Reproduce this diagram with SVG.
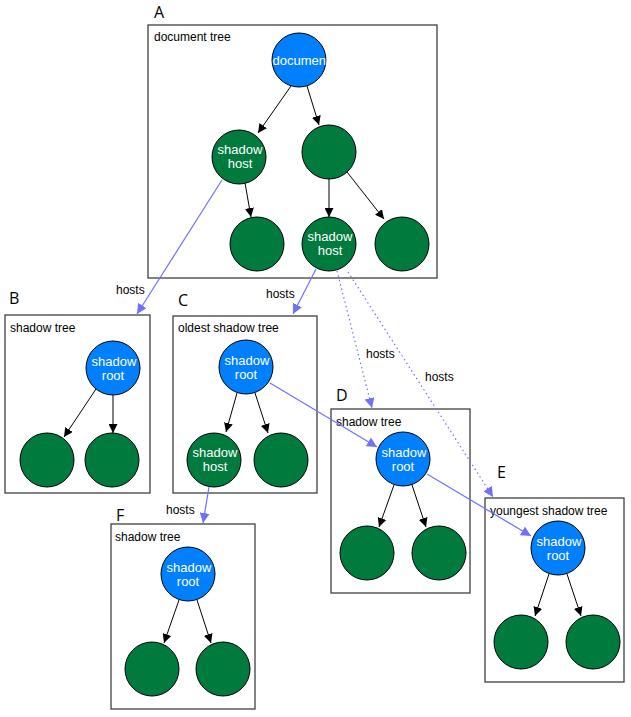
<svg xmlns="http://www.w3.org/2000/svg" width="631" height="717" viewBox="0 0 631 717">
  <defs>
    <marker id="arrow" viewBox="0 0 10 10" refX="10" refY="5" markerWidth="9" markerHeight="9" markerUnits="userSpaceOnUse" orient="auto">
      <path d="M0,0 L10,5 L0,10 z" fill="#000"/>
    </marker>
    <marker id="arrowBlue" viewBox="0 0 10 10" refX="10" refY="5" markerWidth="10" markerHeight="10" markerUnits="userSpaceOnUse" orient="auto">
      <path d="M0,0 L10,5 L0,10 z" fill="#7070ff"/>
    </marker>
    <style>
      .box { fill: #fff; stroke: #404040; stroke-width: 1.3; }
      .title { font-family: "Liberation Sans", Arial, sans-serif; font-size: 12px; fill: #000; }
      .letter { font-family: "Open Sans", "Liberation Sans", sans-serif; font-size: 16px; fill: #000; }
      .root { fill: #0080ff; stroke: #000; stroke-width: 1; }
      .node { fill: #007a3d; stroke: #000; stroke-width: 1; }
      .lbl { font-family: "Liberation Sans", Arial, sans-serif; font-size: 13px; fill: #fff; text-anchor: middle; }
      .edge { stroke: #000; stroke-width: 1; fill: none; marker-end: url(#arrow); }
      .host { stroke: #7070ff; stroke-width: 1.2; fill: none; marker-end: url(#arrowBlue); }
      .dot { stroke-dasharray: 1.5 3; }
      .hl { font-family: "Liberation Sans", Arial, sans-serif; font-size: 12px; fill: #000; }
    </style>
  </defs>

  <!-- A: document tree -->
  <g id="treeA">
    <text class="letter" x="154" y="18">A</text>
    <rect class="box" x="148" y="25" width="289" height="253"/>
    <text class="title" x="154" y="41">document tree</text>
  </g>
  <g id="A-document"><circle class="root" cx="299" cy="60" r="27"/><text class="lbl" x="301" y="64.5">document</text></g>
  <g id="A-host1"><circle class="node" cx="239" cy="157" r="27"/><text class="lbl" x="240" y="154">shadow</text><text class="lbl" x="240" y="168">host</text></g>
  <g id="A-node1"><circle class="node" cx="329" cy="152" r="27"/></g>
  <g id="A-node2"><circle class="node" cx="257" cy="244" r="27"/></g>
  <g id="A-host2"><circle class="node" cx="329" cy="244" r="27"/><text class="lbl" x="330" y="241">shadow</text><text class="lbl" x="330" y="255">host</text></g>
  <g id="A-node3"><circle class="node" cx="402" cy="244" r="27"/></g>

  <!-- B: shadow tree -->
  <g id="treeB">
    <text class="letter" x="9" y="304">B</text>
    <rect class="box" x="5" y="315" width="145" height="178"/>
    <text class="title" x="10" y="332">shadow tree</text>
  </g>
  <g id="B-root"><circle class="root" cx="113" cy="368" r="27"/><text class="lbl" x="114" y="366">shadow</text><text class="lbl" x="113" y="380">root</text></g>
  <g id="B-node1"><circle class="node" cx="47" cy="460" r="27"/></g>
  <g id="B-node2"><circle class="node" cx="112" cy="460" r="27"/></g>

  <!-- C: oldest shadow tree -->
  <g id="treeC">
    <text class="letter" x="178" y="306">C</text>
    <rect class="box" x="173" y="316" width="144" height="177"/>
    <text class="title" x="178" y="332">oldest shadow tree</text>
  </g>
  <g id="C-root"><circle class="root" cx="246" cy="367" r="27"/><text class="lbl" x="247" y="365">shadow</text><text class="lbl" x="246" y="379">root</text></g>
  <g id="C-host"><circle class="node" cx="214" cy="460" r="27"/><text class="lbl" x="215" y="457">shadow</text><text class="lbl" x="215" y="471">host</text></g>
  <g id="C-node1"><circle class="node" cx="281" cy="460" r="27"/></g>

  <!-- D: shadow tree -->
  <g id="treeD">
    <text class="letter" x="336" y="401">D</text>
    <rect class="box" x="331" y="409" width="139" height="184"/>
    <text class="title" x="336" y="426">shadow tree</text>
  </g>
  <g id="D-root"><circle class="root" cx="403" cy="459" r="27"/><text class="lbl" x="404" y="457">shadow</text><text class="lbl" x="403" y="471">root</text></g>
  <g id="D-node1"><circle class="node" cx="367" cy="553" r="27"/></g>
  <g id="D-node2"><circle class="node" cx="439" cy="553" r="27"/></g>

  <!-- E: youngest shadow tree -->
  <g id="treeE">
    <text class="letter" x="497" y="478">E</text>
    <rect class="box" x="485" y="498" width="139" height="184"/>
    <text class="title" x="490" y="515">youngest shadow tree</text>
  </g>
  <g id="E-root"><circle class="root" cx="558" cy="548" r="27"/><text class="lbl" x="559" y="546">shadow</text><text class="lbl" x="558" y="560">root</text></g>
  <g id="E-node1"><circle class="node" cx="521" cy="642" r="27"/></g>
  <g id="E-node2"><circle class="node" cx="593" cy="642" r="27"/></g>

  <!-- F: shadow tree -->
  <g id="treeF">
    <text class="letter" x="116" y="521">F</text>
    <rect class="box" x="111" y="524" width="144" height="185"/>
    <text class="title" x="115" y="541">shadow tree</text>
  </g>
  <g id="F-root"><circle class="root" cx="188" cy="574" r="27"/><text class="lbl" x="189" y="572">shadow</text><text class="lbl" x="188" y="586">root</text></g>
  <g id="F-node1"><circle class="node" cx="152" cy="669" r="27"/></g>
  <g id="F-node2"><circle class="node" cx="223" cy="669" r="27"/></g>

  <!-- connectors -->
  <g id="connectors">
    <!-- tree edges -->
    <line class="edge" x1="291" y1="86" x2="258" y2="133"/>
    <line class="edge" x1="307" y1="86" x2="319" y2="125"/>
    <line class="edge" x1="245" y1="183" x2="251" y2="217"/>
    <line class="edge" x1="329" y1="179" x2="329" y2="217"/>
    <line class="edge" x1="347" y1="172" x2="384" y2="219"/>
    <line class="edge" x1="96" y1="389" x2="64" y2="437"/>
    <line class="edge" x1="113" y1="395" x2="113" y2="433"/>
    <line class="edge" x1="237" y1="393" x2="226" y2="432"/>
    <line class="edge" x1="255" y1="393" x2="268" y2="433"/>
    <line class="edge" x1="394" y1="485" x2="379" y2="527"/>
    <line class="edge" x1="412" y1="485" x2="426" y2="527"/>
    <line class="edge" x1="549" y1="574" x2="535" y2="616"/>
    <line class="edge" x1="567" y1="574" x2="581" y2="616"/>
    <line class="edge" x1="179" y1="600" x2="164" y2="643"/>
    <line class="edge" x1="197" y1="600" x2="211" y2="643"/>

    <!-- hosting links -->
    <line class="host" x1="222" y1="180" x2="137" y2="314"/>
    <line class="host" x1="316" y1="269" x2="293" y2="314"/>
    <line class="host dot" x1="337" y1="271" x2="372" y2="408"/>
    <line class="host dot" x1="348" y1="272" x2="493" y2="497"/>
    <line class="host" x1="209" y1="487" x2="203" y2="523"/>
    <line class="host" x1="270" y1="383" x2="377" y2="447"/>
    <line class="host" x1="427" y1="474" x2="531" y2="536"/>

    <text class="hl" x="116" y="294">hosts</text>
    <text class="hl" x="266" y="298">hosts</text>
    <text class="hl" x="366" y="358">hosts</text>
    <text class="hl" x="425" y="381">hosts</text>
    <text class="hl" x="166" y="514">hosts</text>
  </g>
</svg>
